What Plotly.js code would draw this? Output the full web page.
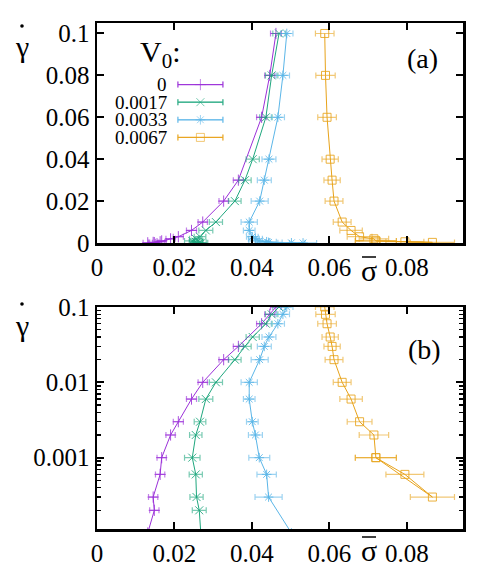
<!DOCTYPE html>
<html>
<head>
<meta charset="utf-8">
<script src="https://cdn.plot.ly/plotly-3.0.1.min.js"></script>
<style>
  html, body { margin: 0; padding: 0; background: white; }
  #plot { width: 491px; height: 568px; }
</style>
</head>
<body>
<div id="plot"></div>
<script>
// V0 values, one series each
const v0Labels = ['0', '0.0017', '0.0033', '0.0067'];
const colors = ['#9b30d9', '#1fa77e', '#5bb6e8', '#e8a31a'];
const symbols = ['cross-thin-open', 'x-thin-open', 'asterisk-open', 'square-open'];

// shear rate (gamma dot) and mean stress (sigma bar) with errors
const rateV0 = [0.1, 0.08, 0.06, 0.03, 0.02, 0.01, 0.006, 0.003, 0.002, 0.001, 0.0006, 0.0003, 0.0002, 0.0001];
const sigmaV0 = [0.0462, 0.0446, 0.0425, 0.0365, 0.0327, 0.0273, 0.0244, 0.0210, 0.0190, 0.0167, 0.0163, 0.0145, 0.0148, 0.0131];
const errV0 = [0.0014, 0.0013, 0.0013, 0.0013, 0.0012, 0.0012, 0.0013, 0.0013, 0.0012, 0.0012, 0.0012, 0.0012, 0.0012, 0.0012];

const rateV1 = [0.1, 0.08, 0.06, 0.04, 0.03, 0.02, 0.01, 0.006, 0.003, 0.002, 0.001, 0.0006, 0.0003, 0.0002, 0.0001];
const sigmaV1 = [0.0470, 0.0451, 0.0436, 0.0402, 0.0382, 0.0356, 0.0307, 0.0281, 0.0266, 0.0255, 0.0246, 0.0255, 0.0257, 0.0264, 0.0268];
const errV1 = [0.0016, 0.0016, 0.0016, 0.0017, 0.0016, 0.0016, 0.0017, 0.0018, 0.0015, 0.0016, 0.0020, 0.0017, 0.0017, 0.0018, 0.0018];

const rateV2 = [0.1, 0.08, 0.06, 0.04, 0.03, 0.02, 0.01, 0.006, 0.003, 0.002, 0.001, 0.0006, 0.0003, 0.0001, 0.00005];
const sigmaV2 = [0.0490, 0.0480, 0.0467, 0.0444, 0.0432, 0.0420, 0.0393, 0.0393, 0.0401, 0.0409, 0.0419, 0.0438, 0.0443, 0.0502, 0.0532];
const errV2 = [0.0016, 0.0017, 0.0017, 0.0018, 0.0018, 0.0022, 0.0021, 0.0015, 0.0015, 0.0018, 0.0027, 0.0025, 0.0035, 0.0035, 0.0035];

const rateV3 = [0.1, 0.08, 0.06, 0.04, 0.03, 0.02, 0.01, 0.006, 0.003, 0.002, 0.001, 0.0006, 0.0003, 0.001];
const sigmaV3 = [0.0588, 0.0590, 0.0594, 0.0602, 0.0607, 0.0612, 0.0633, 0.0656, 0.0678, 0.0715, 0.0720, 0.0795, 0.0866, 0.0720];
const errV3 = [0.0024, 0.0025, 0.0024, 0.0021, 0.0021, 0.0023, 0.0023, 0.0029, 0.0032, 0.0038, 0.0053, 0.0049, 0.0057, 0.0053];

const rates = [rateV0, rateV1, rateV2, rateV3];
const sigmas = [sigmaV0, sigmaV1, sigmaV2, sigmaV3];
const errs = [errV0, errV1, errV2, errV3];

const xTicks = [0, 0.02, 0.04, 0.06, 0.08];
const xTickText = ['0', '0.02', '0.04', '0.06', '0.08'];
const yLinTicks = [0, 0.02, 0.04, 0.06, 0.08, 0.1];
const yLinTickText = ['0', '0.02', '0.04', '0.06', '0.08', '0.1'];
const yLogTicks = [0.001, 0.01, 0.1];
const yLogTickText = ['0.001', '0.01', '0.1'];

const serif = 'Liberation Serif';

function fade(hex, a) {
    const n = parseInt(hex.slice(1), 16);
    return `rgba(${n >> 16},${(n >> 8) & 255},${n & 255},${a})`;
}

const traces = [];
['', '2'].forEach(ax => {
    rates.forEach((r, i) => {
        traces.push({
            x: sigmas[i],
            y: r,
            xaxis: 'x' + ax,
            yaxis: 'y' + ax,
            type: 'scatter',
            mode: 'lines+markers',
            showlegend: false,
            line: { color: colors[i], width: 1 },
            marker: {
                symbol: symbols[i],
                size: 8,
                color: fade(colors[i], 0.85),
                line: { color: fade(colors[i], 0.85), width: 1 }
            },
            error_x: {
                type: 'data',
                array: errs[i],
                color: fade(colors[i], 0.6),
                thickness: 1.2,
                width: 3
            }
        });
    });
});

// hand-made key: text on the left, sample on the right (gnuplot style)
const keyRows = [0.72, 0.64, 0.56, 0.48];
const keyX0 = 0.221, keyX1 = 0.344, keyXc = 0.2825, keyText = 0.197;
v0Labels.forEach((lab, i) => {
    traces.push({
        x: [keyX0, keyXc, keyX1],
        y: [keyRows[i], keyRows[i], keyRows[i]],
        xaxis: 'x3',
        yaxis: 'y3',
        type: 'scatter',
        mode: 'lines+markers',
        showlegend: false,
        line: { color: colors[i], width: 1 },
        marker: {
            symbol: symbols[i],
            size: [0, 8, 0],
            color: fade(colors[i], 0.85),
            line: { color: fade(colors[i], 0.85), width: 1 }
        },
        error_x: {
            type: 'data',
            array: [null, keyX1 - keyXc, null],
            color: fade(colors[i], 0.6),
            thickness: 1.2,
            width: 3
        }
    });
});

const axisBase = {
    showline: true,
    linewidth: 2.5,
    linecolor: 'black',
    mirror: 'allticks',
    ticks: 'inside',
    ticklen: 7,
    tickwidth: 2,
    tickcolor: 'black',
    showgrid: false,
    zeroline: false,
    tickfont: { family: serif, size: 25, color: 'black' }
};

// pixel positions of the free texts
const textSpots = [
    { text: 'γ', x: 22, y: 47, size: 30 },
    { text: 'γ', x: 22, y: 325, size: 30 },
    { text: 'σ', x: 369, y: 270, size: 30 },
    { text: 'σ', x: 369, y: 550, size: 30 },
    { text: '(a)', x: 422, y: 58, size: 28 },
    { text: '(b)', x: 424, y: 349, size: 28 },
    { text: 'V<sub>0</sub>:', x: 160, y: 54, size: 30 }
];
const annotations = textSpots.map(a => ({
    text: a.text,
    xref: 'paper',
    yref: 'paper',
    x: (a.x - 97) / 366,
    y: (529 - a.y) / 506,
    showarrow: false,
    xanchor: 'center',
    yanchor: 'middle',
    font: { family: serif, size: a.size, color: 'black' }
}));

v0Labels.forEach((lab, i) => {
    annotations.push({
        text: lab,
        xref: 'x3',
        yref: 'y3',
        x: keyText,
        y: keyRows[i],
        showarrow: false,
        xanchor: 'right',
        yanchor: 'middle',
        font: { family: serif, size: 19, color: 'black' }
    });
});

// dots over gamma and bars over sigma, in pixels
const px = (x) => (x - 97) / 366;
const py = (y) => (529 - y) / 506;
const shapes = [];
[[22, 26], [22, 304]].forEach(([x, y]) => {
    shapes.push({
        type: 'circle', xref: 'paper', yref: 'paper',
        x0: px(x - 1.8), x1: px(x + 1.8), y0: py(y + 1.8), y1: py(y - 1.8),
        fillcolor: 'black', line: { width: 0 }
    });
});
[[369, 257], [369, 537]].forEach(([x, y]) => {
    shapes.push({
        type: 'line', xref: 'paper', yref: 'paper',
        x0: px(x - 7), x1: px(x + 7), y0: py(y), y1: py(y),
        line: { color: 'black', width: 1.5 }
    });
});

const logMinor = [];
[0.0001, 0.001, 0.01].forEach(d => {
    for (let k = 2; k <= 9; k++) logMinor.push(d * k);
});

const layout = {
    width: 491,
    height: 568,
    margin: { l: 97, r: 28, t: 23, b: 39 },
    paper_bgcolor: 'white',
    plot_bgcolor: 'white',
    showlegend: false,
    xaxis: Object.assign({}, axisBase, {
        domain: [0, 1], anchor: 'y', range: [0, 0.0945],
        tickmode: 'array', tickvals: xTicks, ticktext: xTickText
    }),
    yaxis: Object.assign({}, axisBase, {
        domain: [0.5652, 1], anchor: 'x', range: [0, 0.105],
        tickmode: 'array', tickvals: yLinTicks, ticktext: yLinTickText
    }),
    xaxis2: Object.assign({}, axisBase, {
        domain: [0, 1], anchor: 'y2', range: [0, 0.0945],
        tickmode: 'array', tickvals: xTicks, ticktext: xTickText
    }),
    yaxis2: Object.assign({}, axisBase, {
        domain: [0, 0.4387], anchor: 'x2', type: 'log', range: [-3.947, -1],
        tickmode: 'array', tickvals: yLogTicks, ticktext: yLogTickText,
        minor: { tickmode: 'array', tickvals: logMinor, ticks: 'inside', ticklen: 4, tickwidth: 1.5, tickcolor: 'black' }
    }),
    xaxis3: { domain: [0, 1], anchor: 'y3', overlaying: 'x', range: [0, 1], visible: false },
    yaxis3: { domain: [0.5652, 1], anchor: 'x3', overlaying: 'y', range: [0, 1], visible: false },
    annotations: annotations,
    shapes: shapes
};

Plotly.newPlot('plot', traces, layout, { displayModeBar: false, staticPlot: true });
</script>
</body>
</html>
